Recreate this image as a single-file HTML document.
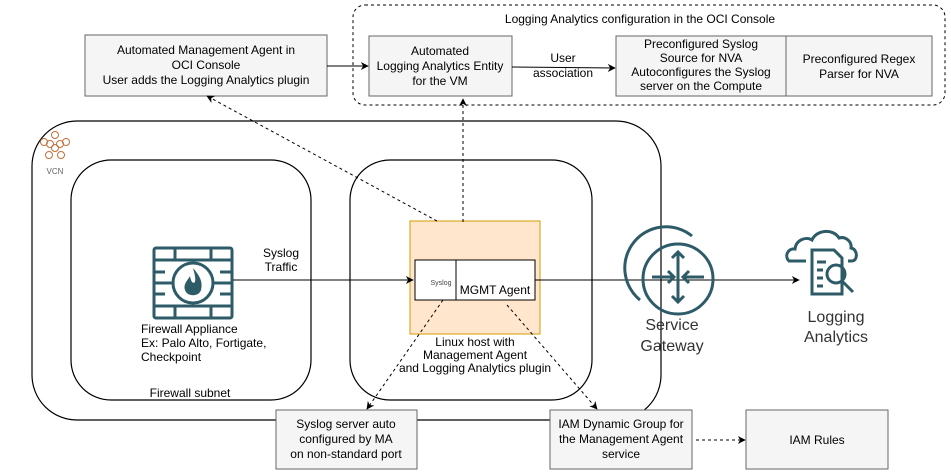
<!DOCTYPE html>
<html><head><meta charset="utf-8"><style>
html,body{margin:0;padding:0;background:#fff;}
svg{display:block;font-family:"Liberation Sans",Arial,sans-serif;}
</style></head><body>
<svg width="951" height="476" viewBox="0 0 951 476" xmlns="http://www.w3.org/2000/svg">
<defs>
<marker id="ar" viewBox="0 0 10 10" refX="9" refY="5" markerWidth="8" markerHeight="8" orient="auto" markerUnits="userSpaceOnUse"><path d="M0,0 L10,5 L0,10 L3,5 z" fill="#000"/></marker>
</defs>
<rect x="32" y="121" width="629" height="299" rx="45" fill="none" stroke="#000" stroke-width="1.2"/>
<rect x="71" y="160" width="240" height="240" rx="40" fill="none" stroke="#000" stroke-width="1.2"/>
<rect x="350" y="160" width="242" height="240" rx="40" fill="none" stroke="#000" stroke-width="1.2"/>
<g fill="none" stroke="#c0703a" stroke-width="1">
<circle cx="55" cy="135" r="3.5"/><circle cx="44" cy="142" r="3.5"/><circle cx="66" cy="142" r="3.5"/>
<circle cx="49" cy="155" r="3.5"/><circle cx="61" cy="155" r="3.5"/><circle cx="50" cy="144" r="3.5"/><circle cx="60" cy="144" r="3.5"/><circle cx="55" cy="148" r="3.5"/>
</g>
<text x="55" y="174" font-size="8" fill="#666" text-anchor="middle">VCN</text>
<text x="190" y="397" font-size="12" text-anchor="middle">Firewall subnet</text>

<rect x="353" y="5" width="592" height="100" rx="12" fill="none" stroke="#000" stroke-dasharray="3,3"/>
<text x="640" y="23" font-size="12" text-anchor="middle">Logging Analytics configuration in the OCI Console</text>

<g font-size="12" text-anchor="middle">
<rect x="85" y="35" width="242" height="61" fill="#f5f5f5" stroke="#666"/>
<text x="206" y="54">Automated Management Agent in</text>
<text x="206" y="69">OCI Console</text>
<text x="206" y="84">User adds the Logging Analytics plugin</text>

<rect x="369" y="36" width="143" height="60" fill="#f5f5f5" stroke="#666"/>
<text x="440" y="55">Automated</text>
<text x="440" y="70">Logging Analytics Entity</text>
<text x="440" y="85">for the VM</text>

<rect x="616" y="36" width="170" height="60" fill="#f5f5f5" stroke="#666"/>
<text x="701" y="48">Preconfigured Syslog</text>
<text x="701" y="62">Source for NVA</text>
<text x="701" y="76">Autoconfigures the Syslog</text>
<text x="701" y="90">server on the Compute</text>
<rect x="786" y="36" width="146" height="60" fill="#f5f5f5" stroke="#666"/>
<text x="859" y="63">Preconfigured Regex</text>
<text x="859" y="78">Parser for NVA</text>

<text x="563" y="62">User</text>
<text x="563" y="77">association</text>
</g>
<line x1="327" y1="66" x2="368" y2="66" stroke="#000" marker-end="url(#ar)"/>
<line x1="512" y1="67" x2="615" y2="68" stroke="#000" marker-end="url(#ar)"/>

<rect x="410" y="221" width="130" height="113" fill="#ffe6cc" stroke="#d79b00"/>
<rect x="415" y="260" width="120" height="40" fill="#fff" stroke="#000"/>
<line x1="456" y1="260" x2="456" y2="300" stroke="#000"/>
<text x="441" y="285" font-size="7" fill="#444" text-anchor="middle">Syslog</text>
<text x="495" y="294" font-size="12" text-anchor="middle">MGMT Agent</text>
<g font-size="12" text-anchor="middle">
<text x="475" y="346">Linux host with</text>
<text x="475" y="359">Management Agent</text>
<text x="475" y="372">and Logging Analytics plugin</text>
<text x="281" y="257">Syslog</text>
<text x="281" y="271">Traffic</text>
</g>
<g font-size="12">
<text x="141" y="333">Firewall Appliance</text>
<text x="141" y="347">Ex: Palo Alto, Fortigate,</text>
<text x="141" y="361">Checkpoint</text>
</g>

<g stroke="#2d5b68" stroke-width="3" fill="none">
<rect x="154" y="248" width="78" height="70" rx="2"/>
<line x1="154" y1="260" x2="232" y2="260"/><line x1="154" y1="306" x2="232" y2="306"/>
<line x1="175" y1="248" x2="175" y2="260"/><line x1="211" y1="248" x2="211" y2="260"/>
<line x1="175" y1="306" x2="175" y2="318"/><line x1="211" y1="306" x2="211" y2="318"/>
<line x1="154" y1="272" x2="165" y2="272"/><line x1="154" y1="294" x2="165" y2="294"/>
<line x1="220" y1="272" x2="232" y2="272"/><line x1="220" y1="294" x2="232" y2="294"/>
<line x1="154" y1="283" x2="172" y2="283"/><line x1="214" y1="283" x2="232" y2="283"/>
<circle cx="193" cy="283" r="20"/>
</g>
<path d="M193,268 C200,276 203,282 201,290 C199,297 187,297 185,290 C183,284 188,280 190,276 C191,282 193,284 195,282 C196,278 194,272 193,268 z" fill="#2d5b68"/>

<line x1="233" y1="280" x2="413" y2="280" stroke="#000" marker-end="url(#ar)"/>
<line x1="535" y1="280" x2="799" y2="280" stroke="#000" marker-end="url(#ar)"/>

<g stroke="#2d5b68" stroke-width="3" fill="none">
<circle cx="678" cy="279" r="35"/>
<path d="M640,300 A40,40 0 0 1 692,236"/>
<line x1="678" y1="252" x2="678" y2="302"/>
<polyline points="672,258 678,252 684,258"/><polyline points="672,296 678,302 684,296"/>
<line x1="652" y1="277" x2="674" y2="277"/><polyline points="668,271 674,277 668,283"/>
<line x1="704" y1="277" x2="683" y2="277"/><polyline points="689,271 683,277 689,283"/>
</g>
<text x="672" y="330" font-size="16" fill="#333" text-anchor="middle">Service</text>
<text x="672" y="351" font-size="16" fill="#333" text-anchor="middle">Gateway</text>

<g stroke="#2d5b68" stroke-width="3" fill="none">
<path d="M806,261 L789,261 C784,256 788,248 795,249 C796,240 806,236 812,240 C816,230 833,228 839,238 C846,236 852,242 851,248 C858,249 858,261 852,261 L848,261"/>
<path d="M812,250 L834,250 L842,258 L842,294 L812,294 z"/>
<line x1="817" y1="262" x2="826" y2="262"/><line x1="817" y1="270" x2="823" y2="270"/><line x1="817" y1="278" x2="823" y2="278"/><line x1="817" y1="286" x2="823" y2="286"/>
<circle cx="836" cy="274" r="9"/>
<line x1="842" y1="281" x2="853" y2="292"/>
</g>
<text x="836" y="322" font-size="16" fill="#333" text-anchor="middle">Logging</text>
<text x="836" y="342" font-size="16" fill="#333" text-anchor="middle">Analytics</text>

<g stroke="#000" stroke-dasharray="3,3" fill="none">
<line x1="463" y1="222" x2="463" y2="99" marker-end="url(#ar)"/>
<line x1="437" y1="221" x2="207" y2="96" marker-end="url(#ar)"/>
<line x1="443" y1="300" x2="367" y2="409" marker-end="url(#ar)"/>
<line x1="507" y1="305" x2="597" y2="409" marker-end="url(#ar)"/>
<line x1="696" y1="440" x2="745" y2="440" marker-end="url(#ar)"/>
</g>

<g font-size="12" text-anchor="middle">
<rect x="276" y="410" width="141" height="59" fill="#f5f5f5" stroke="#666"/>
<text x="346" y="428">Syslog server auto</text>
<text x="346" y="443">configured by MA</text>
<text x="346" y="458">on non-standard port</text>
<rect x="550" y="410" width="142" height="59" fill="#f5f5f5" stroke="#666"/>
<text x="621" y="428">IAM Dynamic Group for</text>
<text x="621" y="443">the Management Agent</text>
<text x="621" y="458">service</text>
<rect x="746" y="410" width="142" height="59" fill="#f5f5f5" stroke="#666"/>
<text x="817" y="444">IAM Rules</text>
</g>
</svg>
</body></html>
